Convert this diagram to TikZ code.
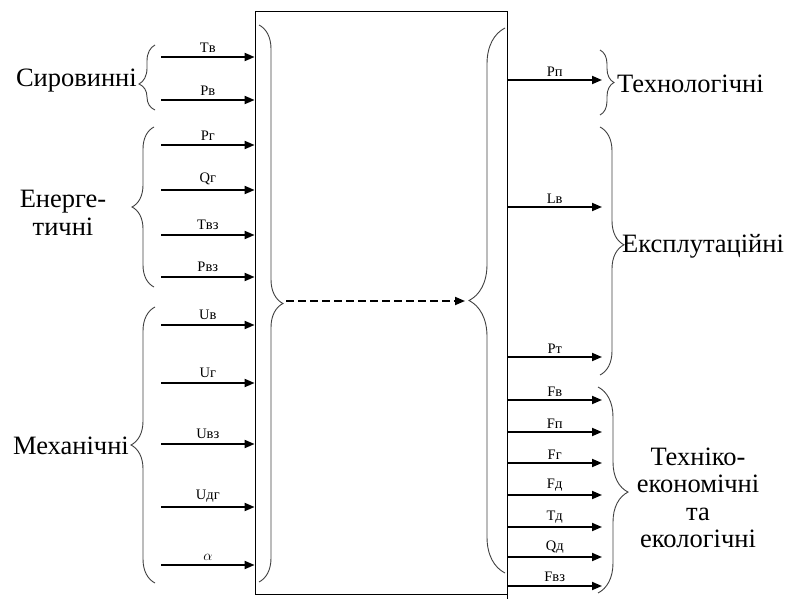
\documentclass[tikz,border=0pt]{standalone}
\usepackage{fontspec}
\setmainfont{Liberation Serif}
\usetikzlibrary{arrows.meta,decorations.pathreplacing,calc}
\begin{document}
\begin{tikzpicture}[x=1pt,y=-1pt,
  arr/.style={line width=1.8pt,-{Triangle[length=10pt,width=8pt]}},
  lbl/.style={font=\fontsize{14.5}{15}\selectfont,inner sep=1pt},
  big/.style={font=\fontsize{26.5}{27.5}\selectfont,inner sep=0pt},
  brc/.style={decorate,draw=black!75,line width=0.9pt,decoration={brace,amplitude=#1}},
  brc/.default=16pt,
  dsh/.style={line width=1.8pt,dash pattern=on 8pt off 4pt,-{Triangle[length=10pt,width=8pt]}}]
\useasboundingbox (0,0) rectangle (787,599);
\node[draw,line width=0.8pt,minimum width=252pt,minimum height=583pt,inner sep=0pt] (box) at (381,302.5) {};
\coordinate (boxse) at (507,594);
\coordinate (boxext) at (507,599);
\draw[line width=0.8pt] (boxse) -- (boxext);
% inputs
\foreach \n/\y/\t in {a/57/Tв,b/100/Pв,c/145/Pг,d/190/Qг,e/235/Tвз,f/277/Pвз,g/325/Uв,h/383/Uг,i/444/Uвз,j/507/Uдг,k/565/$\alpha$}{
  \coordinate (in\n) at (161,\y);
  \draw[arr] (in\n) -- (in\n -| box.west) node[midway,above=3pt,lbl] {\t};
}
% outputs
\foreach \n/\y/\t in {a/80/Pп,b/207/Lв,c/357/Pт,d/400/Fв,e/432/Fп,f/463/Fг,g/495/Fд,h/527/Tд,i/557/Qд,j/586/Fвз}{
  \coordinate (out\n) at (602,\y);
  \draw[arr] (out\n -| box.east) -- (out\n) node[midway,above=2pt,lbl] {\t};
}
% inner braces
\coordinate (lbt) at (259,25);
\coordinate (lbb) at (259,582);
\draw[brc=24pt] (lbt) -- (lbb);
\coordinate (rbb) at (505,573);
\coordinate (rbt) at (505,28);
\draw[brc=36pt] (rbb) -- (rbt);
\coordinate (dstart) at (286,301);
\coordinate (dend) at (465,301);
\draw[dsh] (dstart) -- (dend);
% left braces
\coordinate (s1) at (155,110); \coordinate (s2) at (155,45);
\draw[brc=16pt,decoration={aspect=0.4}] (s1) -- (s2);
\node[big,anchor=east] (sir) at (137,81) {Сировинні};
\coordinate (e1) at (154,287); \coordinate (e2) at (154,127);
\draw[brc=22pt] (e1) -- (e2);
\node[big,align=center] (ener) at (63,213) {Енерге-\\тичні};
\coordinate (m1) at (155,583); \coordinate (m2) at (155,307);
\draw[brc=24pt] (m1) -- (m2);
\node[big,anchor=east] (mech) at (129,446) {Механічні};
% right braces
\coordinate (t1) at (600,50); \coordinate (t2) at (600,115);
\draw[brc=14pt] (t1) -- (t2);
\node[big,anchor=west] (tech) at (617,84) {Технологічні};
\coordinate (x1) at (600,127); \coordinate (x2) at (600,375);
\draw[brc=24pt,decoration={aspect=0.475}] (x1) -- (x2);
\node[big,anchor=west] (expl) at (622,246) {Експлутаційні};
\coordinate (k1) at (598,387); \coordinate (k2) at (598,593);
\draw[brc=30pt,decoration={aspect=0.51}] (k1) -- (k2);
\node[big,align=center] (tek) at (698,498) {Техніко-\\економічні\\та\\екологічні};
\end{tikzpicture}
\end{document}
